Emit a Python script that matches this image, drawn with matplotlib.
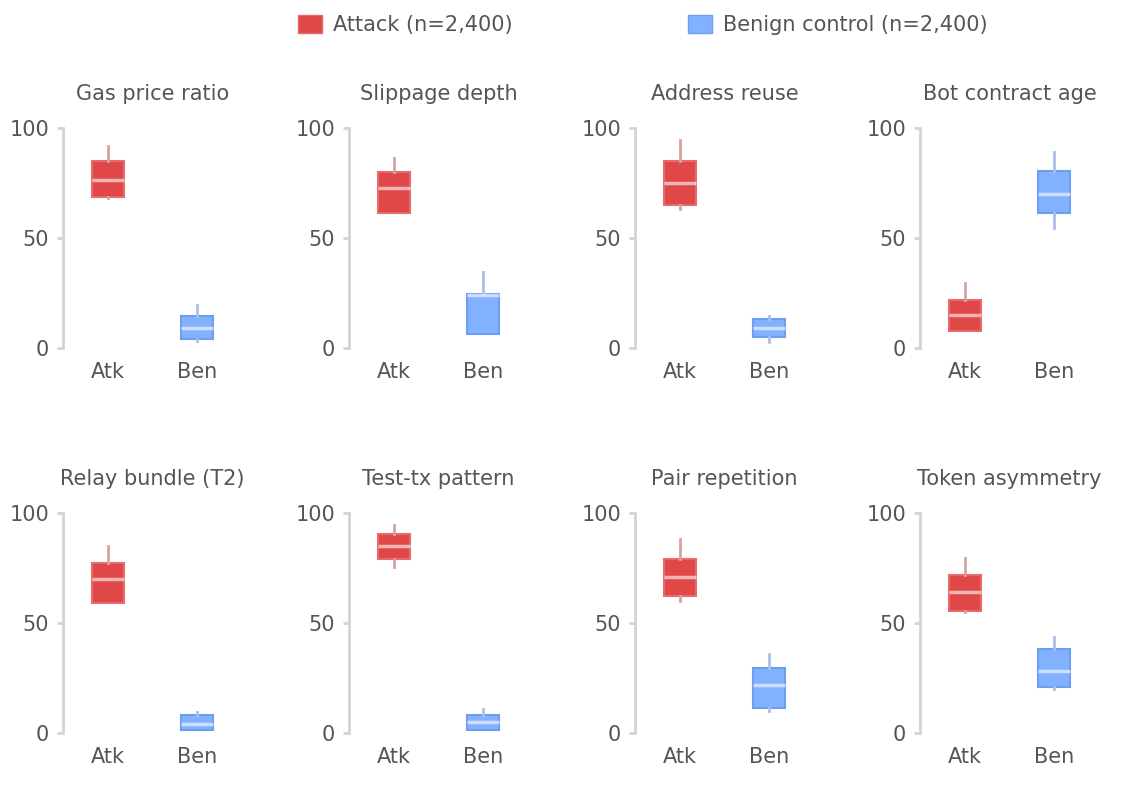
"""
Attack vs benign control: feature score distributions (box summaries).
"""

import matplotlib.pyplot as plt
from matplotlib.patches import Patch

# Panel titles
features = ['Gas price ratio', 'Slippage depth', 'Address reuse', 'Bot contract age',
            'Relay bundle (T2)', 'Test-tx pattern', 'Pair repetition', 'Token asymmetry']
groups = ['Atk', 'Ben']

# Box summaries per feature: (whislo, q1, med, q3, whishi)
atk_stats = [
    (68, 68.5, 76.5, 85, 92),
    (61.5, 61.5, 72.5, 80, 86.5),
    (63, 65, 75, 85, 94.5),
    (7.5, 7.5, 15, 22, 29.5),
    (59, 59, 70, 77.5, 85),
    (75.5, 79, 85, 90.5, 94.5),
    (60, 62.5, 71, 79, 88),
    (55, 55.5, 64, 72, 79.5),
]
ben_stats = [
    (3, 4, 9, 14.5, 19.5),
    (6.5, 6.5, 24, 24.5, 34.5),
    (2.5, 5, 9, 13, 14.5),
    (54.5, 61.5, 70, 80.5, 89),
    (1.5, 1.5, 4, 8, 9.5),
    (1.5, 1.5, 5, 8, 11),
    (10, 11.5, 22, 29.5, 36),
    (20, 21, 28, 38, 43.5),
]
legend_labels = ['Attack (n=2,400)', 'Benign control (n=2,400)']

# Style
red, red_edge, red_whisk = '#e04848', '#e86a6a', '#d3a3a3'
blue, blue_edge, blue_whisk = '#82b1ff', '#6d9ef2', '#a9bfe8'
text_col = '#555555'
axis_col = '#d4d4d4'
fs = 15

plt.rcParams['font.family'] = ['DejaVu Sans']

fig = plt.figure(figsize=(11.48, 8.08), dpi=100)

lefts = [63, 349, 635, 920]
bottoms = [348, 733]
W, H = 1148, 808

for i, name in enumerate(features):
    row, col = divmod(i, 4)
    ax = fig.add_axes([lefts[col] / W, 1 - bottoms[row] / H, 179 / W, 220 / H])

    for pos, stats, face, edge, wc in [(0, atk_stats[i], red, red_edge, red_whisk),
                                       (1, ben_stats[i], blue, blue_edge, blue_whisk)]:
        lo, q1, med, q3, hi = stats
        ax.bxp([dict(whislo=lo, q1=q1, med=med, q3=q3, whishi=hi, fliers=[])],
               positions=[pos], widths=0.36, patch_artist=True, showcaps=False,
               showfliers=False,
               boxprops=dict(facecolor=face, edgecolor=edge, linewidth=1.5),
               whiskerprops=dict(color=wc, linewidth=2),
               medianprops=dict(color='white', alpha=0.6, linewidth=2.5))

    ax.set_xlim(-0.5, 1.5)
    ax.set_ylim(0, 100)
    ax.set_yticks([0, 50, 100])
    ax.set_xticks([0, 1])
    ax.set_xticklabels(groups)
    for s in ['top', 'right', 'bottom']:
        ax.spines[s].set_visible(False)
    ax.spines['left'].set_color(axis_col)
    ax.spines['left'].set_linewidth(2)
    ax.tick_params(axis='y', colors=axis_col, length=4, width=2, labelsize=fs,
                   labelcolor=text_col, pad=6)
    ax.tick_params(axis='x', length=0, labelsize=fs, labelcolor=text_col, pad=10)
    ax.set_title(name, fontsize=fs, color=text_col, pad=20)
    ax.patch.set_alpha(0)

handles = [Patch(facecolor=red, edgecolor=red_edge), Patch(facecolor=blue, edgecolor=blue_edge)]
leg = fig.legend(handles, legend_labels, loc='upper center', bbox_to_anchor=(0.56, 1.0),
                 ncol=2, frameon=False, fontsize=fs, handlelength=1.15, handleheight=1.0,
                 handletextpad=0.55, columnspacing=8.4, borderaxespad=0.3)
for t in leg.get_texts():
    t.set_color(text_col)

plt.savefig('out.png', dpi=100, facecolor='white')
print("Saved out.png")
